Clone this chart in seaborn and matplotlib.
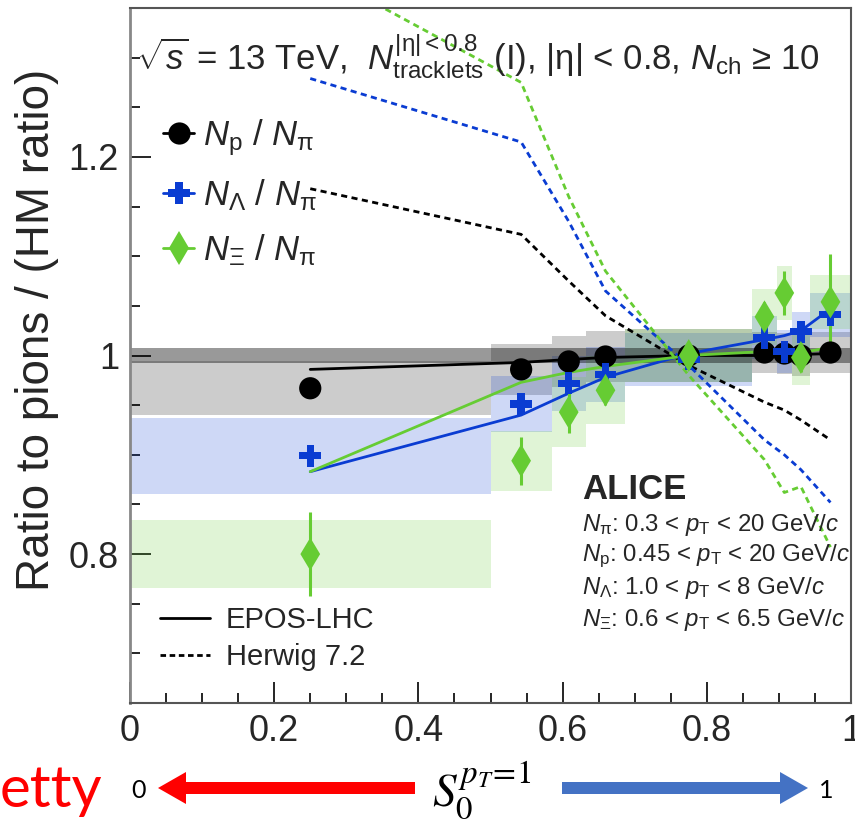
import numpy as np
import pandas as pd
import matplotlib
matplotlib.use("Agg")
import matplotlib.pyplot as plt
import seaborn as sns
from matplotlib.lines import Line2D
from matplotlib.patches import FancyArrow
from matplotlib.ticker import MultipleLocator

# ---------------- data ----------------
bin_edges = [0.0, 0.5, 0.585, 0.632, 0.687, 0.863, 0.897, 0.918, 0.943, 1.0]

p_pi      = [0.967, 0.986, 0.994, 0.999, 1.000, 1.003, 1.002, 1.000, 1.003]
p_pi_stat = [0.002, 0.002, 0.002, 0.002, 0.002, 0.003, 0.003, 0.003, 0.003]
p_pi_sys  = [0.027, 0.026, 0.026, 0.026, 0.027, 0.021, 0.021, 0.021, 0.021]

lam_pi      = [0.899, 0.951, 0.972, 0.981, 0.996, 1.018, 1.004, 1.024, 1.041]
lam_pi_stat = [0.004, 0.004, 0.004, 0.004, 0.004, 0.006, 0.008, 0.008, 0.012]
lam_pi_sys  = [0.038, 0.028, 0.028, 0.028, 0.027, 0.022, 0.022, 0.020, 0.022]

xi_pi      = [0.800, 0.894, 0.943, 0.965, 1.000, 1.039, 1.063, 0.998, 1.054]
xi_pi_stat = [0.042, 0.024, 0.021, 0.015, 0.008, 0.015, 0.022, 0.015, 0.048]
xi_pi_sys  = [0.034, 0.030, 0.035, 0.034, 0.027, 0.028, 0.027, 0.028, 0.027]

norm_unc = 0.0075

epos_p   = [0.986, 0.993, 0.996, 0.998, 1.000, 1.000, 1.001, 1.001, 1.002]
epos_lam = [0.883, 0.940, 0.962, 0.978, 1.002, 1.016, 1.020, 1.025, 1.047]
epos_xi  = [0.883, 0.973, 0.983, 0.989, 1.000, 1.004, 1.004, 1.003, 1.008]

herwig_p   = [1.168, 1.122, 1.075, 1.040, 0.990, 0.953, 0.945, 0.935, 0.915]
herwig_lam = [1.279, 1.215, 1.135, 1.065, 0.990, 0.915, 0.900, 0.885, 0.852]
herwig_xi  = [1.390, 1.275, 1.160, 1.085, 0.980, 0.895, 0.862, 0.868, 0.807]

x_ticks = [0, 0.2, 0.4, 0.6, 0.8, 1.0]
x_ticklabels = ["0", "0.2", "0.4", "0.6", "0.8", "1"]
y_ticks = [0.8, 1.0, 1.2]
y_ticklabels = ["0.8", "1", "1.2"]

legend_labels = [r"$N_{\rm p}$ / $N_{\mathrm{\pi}}$",
                 r"$N_{\Lambda}$ / $N_{\mathrm{\pi}}$",
                 r"$N_{\Xi}$ / $N_{\mathrm{\pi}}$"]
model_labels = ["EPOS-LHC", "Herwig 7.2"]
alice_lines = [r"$N_{\mathrm{\pi}}$: 0.3 < $p_{\rm T}$ < 20 GeV/$c$",
               r"$N_{\rm p}$: 0.45 < $p_{\rm T}$ < 20 GeV/$c$",
               r"$N_{\Lambda}$: 1.0 < $p_{\rm T}$ < 8 GeV/$c$",
               r"$N_{\Xi}$: 0.6 < $p_{\rm T}$ < 6.5 GeV/$c$"]
header = r"$\sqrt{s}$ = 13 TeV,  $N_{\rm tracklets}^{\mathrm{|η|<0.8}}$ (I), |η| < 0.8, $N_{\rm ch}$ ≥ 10"

# ---------------- style ----------------
sns.set_theme(style="ticks")
FONT = "Liberation Sans"
plt.rcParams["font.family"] = [FONT, "DejaVu Sans"]
plt.rcParams["mathtext.fontset"] = "custom"
plt.rcParams["mathtext.rm"] = FONT
plt.rcParams["mathtext.it"] = FONT + ":italic"
plt.rcParams["mathtext.bf"] = FONT + ":bold"
plt.rcParams["mathtext.sf"] = FONT

BLACK = "#000000"
BLUE = "#0a3cd2"
GREEN = "#66cc33"

edges = np.array(bin_edges)
centers = 0.5 * (edges[:-1] + edges[1:])
widths = np.diff(edges)

W, H = 855, 821
fig = plt.figure(figsize=(W / 100, H / 100), dpi=100)
ax = fig.add_axes([130 / W, 1 - 703 / H, 721 / W, 695 / H])

series = [
    ("p", p_pi, p_pi_stat, p_pi_sys, epos_p, herwig_p, BLACK, "o", 256),
    ("lam", lam_pi, lam_pi_stat, lam_pi_sys, epos_lam, herwig_lam, BLUE, "P", 250),
    ("xi", xi_pi, xi_pi_stat, xi_pi_sys, epos_xi, herwig_xi, GREEN, "d", 280),
]

# systematic boxes
for name, val, stat, sys_, ep, hw, col, mk, sz in series:
    v = np.array(val); s = np.array(sys_)
    ax.bar(edges[:-1], 2 * s, width=widths, bottom=v - s, align="edge",
           color=col, alpha=0.2, linewidth=0, zorder=1)

# normalisation band
ax.axhspan(1 - norm_unc, 1 + norm_unc, color="black", alpha=0.4, lw=0, zorder=1.5)

# model curves
for name, val, stat, sys_, ep, hw, col, mk, sz in series:
    dfm = pd.DataFrame({"x": centers, "epos": ep, "herwig": hw})
    sns.lineplot(data=dfm, x="x", y="epos", ax=ax, color=col, lw=2, zorder=2,
                 estimator=None, sort=False)
    sns.lineplot(data=dfm, x="x", y="herwig", ax=ax, color=col, lw=2, zorder=2,
                 estimator=None, sort=False, dashes=False, linestyle=(0, (2.2, 1.6)))

# data points
for name, val, stat, sys_, ep, hw, col, mk, sz in series:
    ax.errorbar(centers, val, yerr=stat, fmt="none", ecolor=col, elinewidth=2.2, zorder=3)
    dfp = pd.DataFrame({"x": centers, "y": val})
    sns.scatterplot(data=dfp, x="x", y="y", ax=ax, color=col, marker=mk, s=sz,
                    edgecolor="none", linewidth=0, zorder=4)

# axes
ax.set_xlim(0, 1)
ax.set_ylim(0.65, 1.35)
ax.set_xticks(x_ticks)
ax.set_xticklabels(x_ticklabels)
ax.set_yticks(y_ticks)
ax.set_yticklabels(y_ticklabels)
ax.xaxis.set_minor_locator(MultipleLocator(0.05))
ax.yaxis.set_minor_locator(MultipleLocator(0.05))
ax.tick_params(axis="both", which="major", direction="in", length=15, width=1.2,
               labelsize=26, color="black", pad=8)
ax.tick_params(axis="both", which="minor", direction="in", length=7.5, width=1.2, color="black")
ax.set_xlabel("")
ax.set_ylabel("")
for side in ["left", "bottom", "top", "right"]:
    ax.spines[side].set_linewidth(1.5)
    ax.spines[side].set_color("#555555")
ax.spines["left"].set_color("#888888")
ax.spines["left"].set_linewidth(2.0)

fig.text(37 / W, 1 - 330 / H, "Ratio to pions / (HM ratio)", rotation=90,
         ha="center", va="center", fontsize=33)

# header
ax.text(0.008, 0.911, header, transform=ax.transAxes, ha="left", va="baseline", fontsize=25)

# legend of species
handles = [Line2D([0], [0], color=c, marker=m, markersize=ms, lw=2, markeredgewidth=0)
           for c, m, ms in [(BLACK, "o", 16), (BLUE, "P", 16), (GREEN, "d", 17)]]
leg1 = ax.legend(handles, legend_labels, loc="upper left", bbox_to_anchor=(0.046, 0.843),
                 frameon=False, fontsize=25, handlelength=0.9, handletextpad=0.25,
                 labelspacing=0.55, borderpad=0, borderaxespad=0)
ax.add_artist(leg1)

mhandles = [Line2D([0], [0], color="black", lw=2),
            Line2D([0], [0], color="black", lw=2, linestyle=(0, (2, 1.3)))]
ax.legend(mhandles, model_labels, loc="upper left", bbox_to_anchor=(0.0416, 0.139),
          frameon=False, fontsize=21, handlelength=1.7, handletextpad=0.55,
          labelspacing=0.3, borderpad=0, borderaxespad=0)

# ALICE block
ax.text(0.627, 0.3065, "ALICE", transform=ax.transAxes, ha="left", va="center",
        fontsize=25, fontweight="bold")
for i, t in enumerate(alice_lines):
    ypix = 525 + 31.7 * i
    ax.text(0.627, 1 - (ypix - 8) / 695, t, transform=ax.transAxes, ha="left",
            va="center", fontsize=17.3)

# bottom annotation
fig.text(0 / W, 1 - 790 / H, "etty", color="red", ha="left", va="center",
         fontsize=42, family=["Lato", "DejaVu Sans"])
fig.text(138 / W, 1 - 790 / H, "0", color="black", ha="center", va="center",
         fontsize=18, family=["Lato", "DejaVu Sans"])
fig.text(826 / W, 1 - 790 / H, "1", color="black", ha="center", va="center",
         fontsize=18, family=["Lato", "DejaVu Sans"])
fig.text(482 / W, 1 - 790 / H, r"$S_0^{p_T\!=\!1}$", color="black", ha="center", va="center",
         fontsize=34, math_fontfamily="stix")
fig.add_artist(FancyArrow(4.15, (H - 788) / 100, -2.57, 0, width=0.12, head_width=0.32,
                          head_length=0.28, length_includes_head=True, color="#ff0000",
                          transform=fig.dpi_scale_trans, lw=0))
fig.add_artist(FancyArrow(5.62, (H - 788) / 100, 2.46, 0, width=0.12, head_width=0.32,
                          head_length=0.28, length_includes_head=True, color="#4472c4",
                          transform=fig.dpi_scale_trans, lw=0))

fig.savefig("out.png", dpi=100)
